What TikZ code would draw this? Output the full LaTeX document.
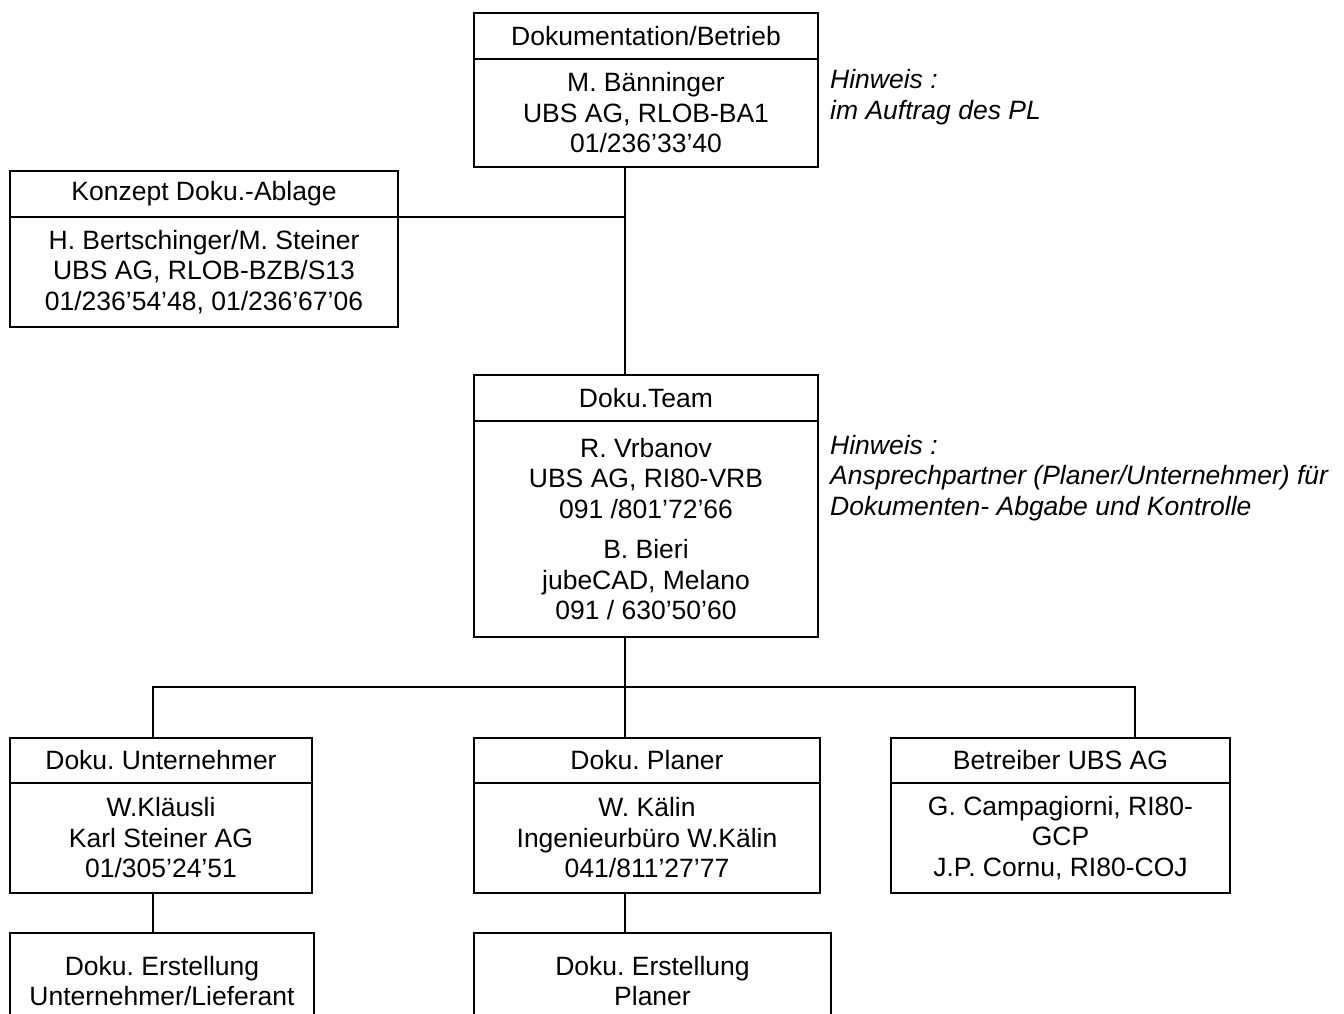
\documentclass[tikz,border=0pt]{standalone}
\usepackage{fontspec}
\setmainfont{Liberation Sans}
\frenchspacing
\begin{document}
\begin{tikzpicture}[x=1pt,y=-1pt,
  box/.style={draw, line width=2.7pt, rectangle, anchor=north west, inner sep=0pt, outer sep=0pt, align=center,
    font=\fontsize{26.5}{30.5}\selectfont},
  emptybox/.style={draw, line width=2.7pt, rectangle, anchor=north west, inner sep=0pt, outer sep=0pt},
  txt/.style={inner sep=0pt, outer sep=0pt, align=center, font=\fontsize{26.5}{30.5}\selectfont},
  note/.style={anchor=west, align=left, inner sep=0pt, font=\fontsize{26.5}{30.5}\selectfont\itshape},
  link/.style={draw, line width=2.7pt}]
\path[use as bounding box, fill=white] (0,0) rectangle (1344,1013);
\clip (0,0) rectangle (1344,1013);

% top box
\node[box, minimum width=344pt, minimum height=46pt] (topH) at (474,13) {Dokumentation/Betrieb};
\node[box, minimum width=344pt, minimum height=108pt] (topB) at (topH.south west)
  {M. Bänninger\\UBS AG, RLOB-BA1\\01/236’33’40};
\node[note] (n1) at (830,97) {Hinweis :\\im Auftrag des PL};

% Konzept
\node[box, minimum width=388pt, minimum height=46pt] (kH) at (10,171) {Konzept Doku.-Ablage};
\node[box, minimum width=388pt, minimum height=110pt] (kB) at (kH.south west)
  {H. Bertschinger/M. Steiner\\UBS AG, RLOB-BZB/S13\\01/236’54’48, 01/236’67’06};

% Doku.Team
\node[box, minimum width=344pt, minimum height=46pt] (tH) at (474,375) {Doku.Team};
\node[box, minimum width=344pt, minimum height=216pt] (tB) at (tH.south west)
  {R. Vrbanov\\UBS AG, RI80-VRB\\091 /801’72’66\\[10pt]B. Bieri\\jubeCAD, Melano\\091 / 630’50’60};
\node[note] (n2) at (830,478) {Hinweis :\\Ansprechpartner (Planer/Unternehmer) für\\Dokumenten- Abgabe und Kontrolle};

% second row
\node[box, minimum width=302pt, minimum height=45pt] (uH) at (10,738) {Doku. Unternehmer};
\node[box, minimum width=302pt, minimum height=110pt] (uB) at (uH.south west)
  {W.Kläusli\\Karl Steiner AG\\01/305’24’51};
\node[box, minimum width=346pt, minimum height=45pt] (pH) at (474,738) {Doku. Planer};
\node[box, minimum width=346pt, minimum height=110pt] (pB) at (pH.south west)
  {W. Kälin\\Ingenieurbüro W.Kälin\\041/811’27’77};
\node[box, minimum width=339pt, minimum height=45pt] (bH) at (891,738) {Betreiber UBS AG};
\node[box, minimum width=339pt, minimum height=110pt] (bB) at (bH.south west)
  {G. Campagiorni, RI80-\\GCP\\J.P. Cornu, RI80-COJ};

% third row (cut off at bottom)
\node[emptybox, minimum width=304pt, minimum height=130pt] (ue) at (10,933) {};
\node[txt, anchor=north] (ueT) at ([yshift=-23pt]ue.north) {Doku. Erstellung\\Unternehmer/Lieferant};
\node[emptybox, minimum width=357pt, minimum height=130pt] (pe) at (474,933) {};
\node[txt, anchor=north] (peT) at ([yshift=-23pt]pe.north) {Doku. Erstellung\\Planer};

% connectors
\coordinate (spine) at (625,0);
\coordinate (c1) at (153,687);
\coordinate (c3) at (1135,687);
\draw[link] (topB.south -| spine) -- (tH.north -| spine);
\draw[link] (kH.south east) -- (kH.south east -| spine);
\draw[link] (tB.south -| spine) -- (c1 -| spine);
\draw[link] (c1 |- uH.north) -- (c1) -- (c3) -- (c3 |- bH.north);
\draw[link] (c1 -| spine) -- (pH.north -| spine);
\draw[link] (c1 |- uB.south) -- (c1 |- ue.north);
\draw[link] (pB.south -| spine) -- (pe.north -| spine);
\end{tikzpicture}
\end{document}
